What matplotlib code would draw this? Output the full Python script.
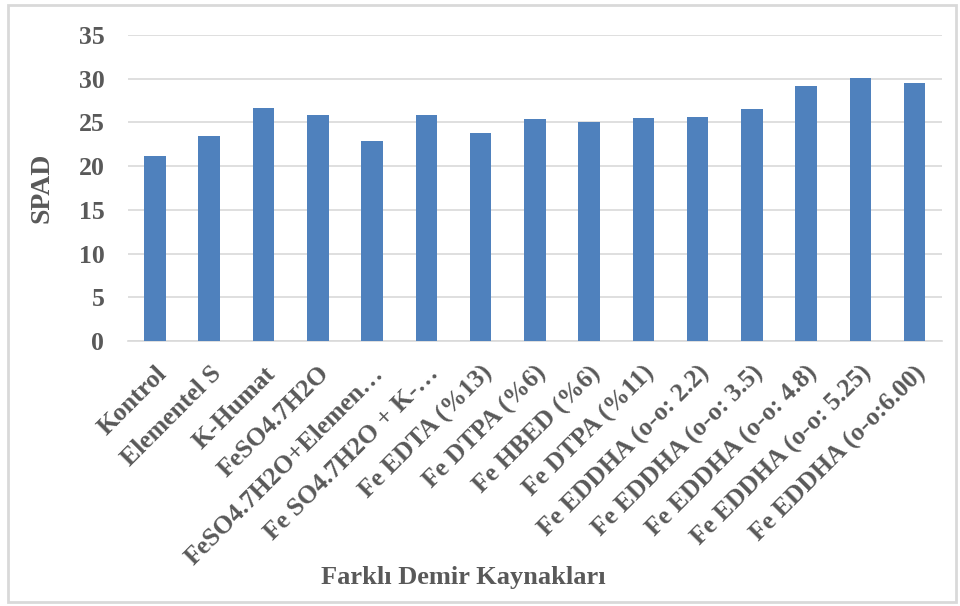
import matplotlib.pyplot as plt
from matplotlib.patches import Rectangle

sources = ["Kontrol", "Elementel S", "K-Humat", "FeSO4.7H2O",
           "FeSO4.7H2O+Elemen…", "Fe SO4.7H2O + K-…", "Fe EDTA (%13)",
           "Fe DTPA (%6)", "Fe HBED (%6)", "Fe DTPA (%11)",
           "Fe EDDHA (o-o: 2.2)", "Fe EDDHA (o-o: 3.5)", "Fe EDDHA (o-o: 4.8)",
           "Fe EDDHA (o-o: 5.25)", "Fe EDDHA (o-o:6.00)"]
spad = [21.2, 23.5, 26.7, 25.9, 22.9, 25.9, 23.8, 25.4,
        25.1, 25.5, 25.6, 26.5, 29.2, 30.1, 29.5]
y_ticks = [0, 5, 10, 15, 20, 25, 30, 35]

plt.rcParams['font.family'] = ['Liberation Serif', 'DejaVu Serif']
text_color = '#595959'
grid_color = '#d9d9d9'

fig = plt.figure(figsize=(9.6, 6.06), dpi=100)
ax = fig.add_axes([0.1333, 0.4373, 0.8477, 0.5049])

x = range(len(sources))
ax.bar(x, spad, width=0.4, color='#4f81bd', zorder=3)

ax.set_ylim(0, 35)
ax.set_xlim(-0.5, len(sources) - 0.5)
ax.set_yticks(y_ticks)
ax.set_yticklabels([str(t) for t in y_ticks], fontsize=18.5, fontweight='bold', color=text_color)
ax.yaxis.grid(True, color=grid_color, linewidth=1.2, zorder=0)
ax.tick_params(axis='y', length=0, pad=17)
ax.tick_params(axis='x', length=0, pad=15)

ax.set_xticks(list(x))
ax.set_xticklabels(sources, rotation=45, ha='right', rotation_mode='anchor',
                   fontsize=18.5, fontweight='bold', color=text_color)

for side in ['top', 'right', 'left']:
    ax.spines[side].set_visible(False)
ax.spines['bottom'].set_color(grid_color)
ax.spines['bottom'].set_linewidth(1.2)

ax.set_ylabel('SPAD', fontsize=20, fontweight='bold', color=text_color, labelpad=17)
fig.text(0.483, 0.047, 'Farklı Demir Kaynakları', fontsize=19, fontweight='bold',
         color=text_color, ha='center', va='center')

# light frame around the whole chart
fig.patches.append(Rectangle((0.008, 0.006), 0.988, 0.986, transform=fig.transFigure,
                             fill=False, edgecolor=grid_color, linewidth=2))

fig.savefig('out.png', dpi=100)
